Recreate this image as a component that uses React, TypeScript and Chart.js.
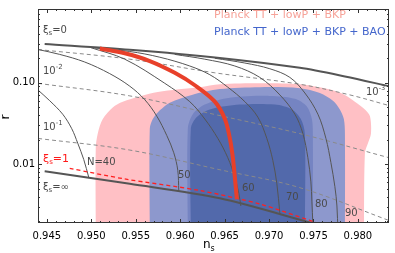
import React, { useEffect, useRef } from 'react';
import { Chart, registerables } from 'chart.js';

Chart.register(...registerables);

// ---- axes ----
const xTicks = [0.945, 0.95, 0.955, 0.96, 0.965, 0.97, 0.975, 0.98];
const yTicks = [0.01, 0.1];
const yTickLabels = ['0.01', '0.10'];

// ---- xi = 0 (solid) ----
const xi0Ns = [0.94475, 0.95433, 0.96446, 0.97347, 0.97854, 0.9835];
const xi0R = [0.298, 0.253, 0.201, 0.152, 0.119, 0.0904];

// ---- xi = infinity (solid) ----
const xiInfNs = [0.94475, 0.95433, 0.96446, 0.97459, 0.97685];
const xiInfR = [0.00819, 0.00575, 0.00382, 0.00193, 0.00164];

// ---- xi = 1 (red dashed) ----
const xi1Ns = [0.94757, 0.95376, 0.96221, 0.96896, 0.97459, 0.97629];
const xi1R = [0.00889, 0.00659, 0.00475, 0.00324, 0.00204, 0.00173];

// ---- xi = 1e-3, 1e-2, 1e-1 (gray dashed) ----
const xiM3Ns = [0.944, 0.95433, 0.9639, 0.97347, 0.9791, 0.9835];
const xiM3R = [0.255, 0.194, 0.132, 0.0955, 0.0707, 0.0524];
const xiM2Ns = [0.944, 0.95433, 0.96424, 0.97347, 0.9835];
const xiM2R = [0.0981, 0.0688, 0.0399, 0.0237, 0.012];
const xiM1Ns = [0.944, 0.95433, 0.96424, 0.97347, 0.9835];
const xiM1R = [0.0207, 0.0149, 0.00865, 0.00515, 0.00204];

// ---- constant N curves ----
const n40Ns = [0.944, 0.94532, 0.94678, 0.9478, 0.94847, 0.94915, 0.94971];
const n40R = [0.0811, 0.06, 0.041, 0.0272, 0.0181, 0.0114, 0.0069];
const n50Ns = [0.944, 0.94644, 0.94926, 0.95207, 0.95433, 0.95602, 0.95737, 0.95849, 0.95928, 0.95973, 0.95984];
const n50R = [0.255, 0.222, 0.179, 0.129, 0.0904, 0.0617, 0.0388, 0.0225, 0.0138, 0.00842, 0.00475];
const n60Ns = [0.94993, 0.95376, 0.95827, 0.96108, 0.96277, 0.96424, 0.96536, 0.96615, 0.9666, 0.96683];
const n60R = [0.269, 0.194, 0.0981, 0.0584, 0.0358, 0.0207, 0.012, 0.00696, 0.00438, 0.00307];
const n70Ns = [0.95039, 0.95433, 0.95771, 0.96108, 0.96334, 0.96536, 0.96728, 0.96874, 0.96975, 0.97043, 0.97088, 0.97122];
const n70R = [0.266, 0.241, 0.205, 0.16, 0.125, 0.088, 0.0584, 0.0378, 0.0207, 0.0111, 0.00575, 0.00247];
const n80Ns = [0.95939, 0.96277, 0.96615, 0.96896, 0.97122, 0.97291, 0.97381, 0.97437, 0.97471, 0.97482, 0.97493];
const n80R = [0.222, 0.194, 0.16, 0.116, 0.0707, 0.041, 0.0237, 0.012, 0.00607, 0.00352, 0.00188];
const n90Ns = [0.9639, 0.96728, 0.97009, 0.97234, 0.97403, 0.9755, 0.9764, 0.97696, 0.97741, 0.97764, 0.97775];
const n90R = [0.199, 0.174, 0.148, 0.116, 0.0747, 0.041, 0.0207, 0.0105, 0.0053, 0.00307, 0.00151];

// ---- red thick N=60 segment ----
const redNs = [0.95095, 0.95376, 0.95658, 0.95939, 0.96165, 0.9639, 0.96503, 0.96559, 0.96593, 0.96615, 0.96638];
const redR = [0.262, 0.229, 0.184, 0.132, 0.0929, 0.0584, 0.0358, 0.0207, 0.012, 0.00696, 0.00372];

// ---- confidence regions ----
const pink95Ns = [0.9505, 0.9505, 0.95072, 0.95129, 0.95241, 0.95354, 0.95748, 0.96221, 0.96446, 0.96896, 0.97347, 0.97662, 0.97854, 0.97966, 0.98079, 0.98136, 0.98147, 0.98113, 0.98079, 0.98068];
const pink95R = [0.0013, 0.0158, 0.0237, 0.0358, 0.0496, 0.0584, 0.0768, 0.088, 0.0955, 0.0981, 0.0955, 0.0833, 0.0707, 0.0584, 0.047, 0.0388, 0.0237, 0.0181, 0.0138, 0.0013];
const blue95Ns = [0.95658, 0.95658, 0.95692, 0.95771, 0.95883, 0.96131, 0.96446, 0.96896, 0.97347, 0.97572, 0.97719, 0.97797, 0.97842, 0.97854, 0.97854];
const blue95R = [0.0013, 0.0272, 0.0358, 0.0457, 0.0568, 0.0707, 0.0833, 0.088, 0.0856, 0.0747, 0.06, 0.047, 0.0358, 0.0237, 0.0013];
const pink68Ns = [0.96086, 0.96086, 0.96142, 0.96277, 0.96559, 0.97009, 0.97291, 0.97426, 0.97482, 0.97493, 0.97493];
const pink68R = [0.0013, 0.0272, 0.041, 0.0538, 0.0652, 0.0688, 0.0634, 0.051, 0.0358, 0.0237, 0.0013];
const blue68Ns = [0.9612, 0.9612, 0.96187, 0.96334, 0.96671, 0.97066, 0.97257, 0.97358, 0.97403, 0.97403];
const blue68R = [0.0013, 0.0272, 0.0378, 0.047, 0.0538, 0.0538, 0.047, 0.0358, 0.0237, 0.0013];

const legendTexts = ['Planck TT + lowP + BKP', 'Planck TT + lowP + BKP + BAO'];

const FONT = '"DejaVu Sans", Verdana, sans-serif';

const pts = (xs: number[], ys: number[]) => xs.map((x, i) => ({ x, y: ys[i] }));

const lineDs = (xs: number[], ys: number[], color: string, width: number, order: number, dash: number[] = [], tension = 0.35) => ({
  data: pts(xs, ys),
  showLine: true,
  borderColor: color,
  borderWidth: width,
  borderDash: dash,
  pointRadius: 0,
  fill: false,
  tension,
  order,
});

const regionDs = (xs: number[], ys: number[], color: string, order: number) => ({
  data: pts(xs, ys),
  showLine: true,
  borderWidth: 0,
  borderColor: color,
  backgroundColor: color,
  pointRadius: 0,
  fill: 'shape',
  tension: 0.3,
  order,
});

type Seg = { t: string; size?: number; dy?: number };
function drawSegs(ctx: CanvasRenderingContext2D, x: number, y: number, segs: Seg[], color: string) {
  let cx = x;
  ctx.fillStyle = color;
  ctx.textAlign = 'left';
  ctx.textBaseline = 'alphabetic';
  for (const s of segs) {
    ctx.font = `${s.size ?? 10}px ${FONT}`;
    ctx.fillText(s.t, cx, y + (s.dy ?? 0));
    cx += ctx.measureText(s.t).width;
  }
}

const framePlugin = {
  id: 'frameTicks',
  afterDraw(chart: any) {
    const { ctx, chartArea, scales } = chart;
    const { left, right, top, bottom } = chartArea;
    const xs = scales.x;
    const ys = scales.y;
    ctx.save();
    ctx.strokeStyle = '#333';
    ctx.lineWidth = 1;
    ctx.strokeRect(left + 0.5, top + 0.5, right - left - 1, bottom - top - 1);
    ctx.beginPath();
    for (let k = 944; k <= 983; k++) {
      const v = k / 1000;
      const px = Math.round(xs.getPixelForValue(v)) + 0.5;
      const major = k % 5 === 0;
      const len = major ? 4 : 2;
      ctx.moveTo(px, bottom);
      ctx.lineTo(px, bottom - len);
      ctx.moveTo(px, top);
      ctx.lineTo(px, top + len);
    }
    for (const dec of [0.001, 0.01, 0.1]) {
      for (let m = 1; m <= 9; m++) {
        const v = dec * m;
        if (v < ys.min || v > ys.max) continue;
        const py = Math.round(ys.getPixelForValue(v)) + 0.5;
        const len = m === 1 ? 4 : 2;
        ctx.moveTo(left, py);
        ctx.lineTo(left + len, py);
        ctx.moveTo(right, py);
        ctx.lineTo(right - len, py);
      }
    }
    ctx.stroke();

    const gray = '#4a4a4a';
    drawSegs(ctx, 43, 33, [{ t: 'ξ' }, { t: 's', size: 7, dy: 2 }, { t: '=0' }], gray);
    drawSegs(ctx, 43, 74, [{ t: '10' }, { t: '-2', size: 7, dy: -5 }], gray);
    drawSegs(ctx, 43, 130, [{ t: '10' }, { t: '-1', size: 7, dy: -5 }], gray);
    drawSegs(ctx, 366, 95, [{ t: '10' }, { t: '-3', size: 6.5, dy: -5 }], gray);
    drawSegs(ctx, 43, 162, [{ t: 'ξ', size: 11 }, { t: 's', size: 7, dy: 2 }, { t: '=1', size: 11 }], '#ff1a1a');
    drawSegs(ctx, 87, 165, [{ t: 'N=40' }], gray);
    drawSegs(ctx, 43, 190, [{ t: 'ξ' }, { t: 's', size: 7, dy: 2 }, { t: '=∞' }], gray);
    drawSegs(ctx, 178, 178, [{ t: '50' }], gray);
    drawSegs(ctx, 242, 191, [{ t: '60' }], gray);
    drawSegs(ctx, 286, 200, [{ t: '70' }], gray);
    drawSegs(ctx, 315, 207, [{ t: '80' }], gray);
    drawSegs(ctx, 345, 216, [{ t: '90' }], gray);

    drawSegs(ctx, 214, 18, [{ t: legendTexts[0], size: 11 }], '#f7a399');
    drawSegs(ctx, 214, 35, [{ t: legendTexts[1], size: 11 }], '#4466cc');

    // axis titles
    drawSegs(ctx, 203, 248, [{ t: 'n', size: 12 }, { t: 's', size: 8, dy: 3 }], '#000');
    ctx.save();
    ctx.translate(9, 117);
    ctx.rotate(-Math.PI / 2);
    ctx.font = `12px ${FONT}`;
    ctx.fillStyle = '#000';
    ctx.textAlign = 'center';
    ctx.fillText('r', 0, 0);
    ctx.restore();
    ctx.restore();
  },
};

export default function App() {
  const ref = useRef<HTMLCanvasElement>(null);
  useEffect(() => {
    document.body.style.margin = '0';
    const gray = '#555555';
    const dgray = '#8a8a8a';
    const chart = new Chart(ref.current as HTMLCanvasElement, {
      type: 'scatter',
      data: {
        datasets: [
          regionDs(pink95Ns, pink95R, '#ffc0c5', 13),
          regionDs(blue95Ns, blue95R, '#8d98cd', 12),
          regionDs(pink68Ns, pink68R, '#7584c2', 11),
          regionDs(blue68Ns, blue68R, '#5269ab', 10),
          lineDs(xiM3Ns, xiM3R, dgray, 1, 5, [4, 3]),
          lineDs(xiM2Ns, xiM2R, dgray, 1, 5, [4, 3]),
          lineDs(xiM1Ns, xiM1R, dgray, 1, 5, [4, 3]),
          lineDs(n40Ns, n40R, gray, 1, 4),
          lineDs(n50Ns, n50R, gray, 1, 4),
          lineDs(n60Ns, n60R, gray, 1, 4),
          lineDs(n70Ns, n70R, gray, 1, 4),
          lineDs(n80Ns, n80R, gray, 1, 4),
          lineDs(n90Ns, n90R, gray, 1, 4),
          lineDs(xi0Ns, xi0R, '#555', 2, 3, [], 0.3),
          lineDs(xiInfNs, xiInfR, '#555', 2, 3, [], 0.3),
          lineDs(xi1Ns, xi1R, '#ff2020', 1.3, 2, [4, 3], 0.3),
          lineDs(redNs, redR, '#e8402a', 4, 1),
        ] as any,
      },
      options: {
        animation: false,
        responsive: false,
        maintainAspectRatio: false,
        events: [],
        layout: { padding: { left: 0, right: 6, top: 1, bottom: 0 } },
        plugins: { legend: { display: false }, tooltip: { enabled: false }, title: { display: false } },
        scales: {
          x: {
            type: 'linear',
            min: 0.944,
            max: 0.9835,
            grid: { display: false, drawTicks: false },
            border: { display: false },
            ticks: {
              font: { family: FONT, size: 10 },
              color: '#000',
              padding: 7,
              maxRotation: 0,
              autoSkip: false,
              callback: (v: any) => Number(v).toFixed(3),
            },
            afterBuildTicks: (s: any) => {
              s.ticks = xTicks.map((v) => ({ value: v }));
            },
            afterFit: (s: any) => {
              s.height = 30;
            },
          },
          y: {
            type: 'logarithmic',
            min: 0.0019,
            max: 0.8,
            grid: { display: false, drawTicks: false },
            border: { display: false },
            ticks: {
              font: { family: FONT, size: 10 },
              color: '#000',
              padding: 3,
              autoSkip: false,
              callback: (v: any) => {
                const i = yTicks.findIndex((t) => Math.abs(t - Number(v)) < 1e-9);
                return i >= 0 ? yTickLabels[i] : '';
              },
            },
            afterBuildTicks: (s: any) => {
              s.ticks = yTicks.map((v) => ({ value: v }));
            },
            afterFit: (s: any) => {
              s.width = 38;
            },
          },
        },
      } as any,
      plugins: [framePlugin],
    });
    return () => chart.destroy();
  }, []);
  return (
    <div style={{ width: 395, height: 253 }}>
      <canvas ref={ref} width={395} height={253} style={{ display: 'block' }} />
    </div>
  );
}
